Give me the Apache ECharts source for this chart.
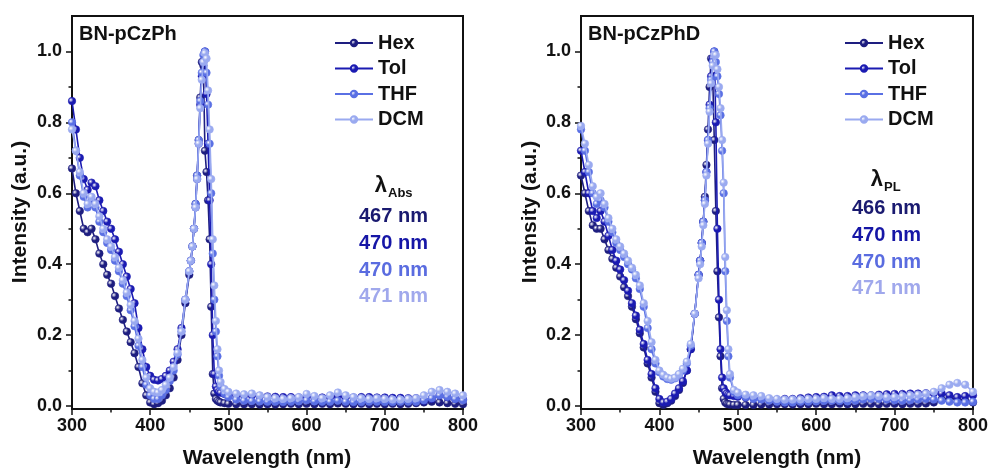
<!DOCTYPE html>
<html>
<head>
<meta charset="utf-8">
<script src="https://cdn.jsdelivr.net/npm/echarts@6/dist/echarts.min.js"></script>
<style>
html,body{margin:0;padding:0;background:#fff;}
#chart{width:991px;height:473px;}
</style>
</head>
<body>
<div id="chart"></div>
<script>
// ---------- data ----------
const seriesNames = ['Hex', 'Tol', 'THF', 'DCM'];
const panelTitles = ['BN-pCzPh', 'BN-pCzPhD'];
const lambdaSubs = ['Abs', 'PL'];
const peaksA = ['467 nm', '470 nm', '470 nm', '471 nm'];
const peaksB = ['466 nm', '470 nm', '470 nm', '471 nm'];
const xTicks = [300, 400, 500, 600, 700, 800];
const yTicks = [0, 0.2, 0.4, 0.6, 0.8, 1.0];
const yMinorTicks = [0.1, 0.3, 0.5, 0.7, 0.9];

const wl = [
  300,305,310,315,320,325,330,335,340,345,350,355,360,365,370,375,380,385,390,395,400,405,410,415,420,425,430,435,440,445,
  450,452,454,456,458,460,462,464,466,468,470,472,474,476,478,480,482,484,486,488,490,
  495,500,510,520,
  530,540,550,560,570,580,590,600,610,620,630,640,650,660,670,680,690,700,710,720,730,740,750,760,770,780,790,800
];

// BN-pCzPh
const a_hex = [
  0.67,0.60,0.55,0.50,0.49,0.50,0.47,0.43,0.40,0.37,0.345,0.31,0.275,0.243,0.21,0.18,0.149,0.11,0.064,0.03,0.01,0.005,0.008,0.015,0.03,0.05,0.08,0.13,0.2,0.29,
  0.37,0.41,0.45,0.5,0.57,0.65,0.75,0.87,0.97,0.96,0.72,0.66,0.58,0.47,0.28,0.09,0.035,0.02,0.015,0.012,0.01,
  0.008,0.006,0.005,0.005,
  0.005,0.004,0.005,0.004,0.005,0.006,0.005,0.006,0.005,0.006,0.005,0.007,0.006,0.005,0.006,0.005,0.006,0.005,0.006,0.005,0.006,0.008,0.01,0.012,0.01,0.008,0.006,0.005
];
const a_tol = [
  0.86,0.78,0.70,0.64,0.61,0.63,0.62,0.58,0.55,0.52,0.50,0.47,0.435,0.40,0.365,0.33,0.29,0.22,0.16,0.11,0.085,0.074,0.072,0.076,0.085,0.1,0.125,0.16,0.22,0.3,
  0.38,0.41,0.45,0.5,0.56,0.64,0.74,0.85,0.93,0.97,1.0,0.88,0.74,0.58,0.4,0.2,0.09,0.055,0.045,0.04,0.037,
  0.034,0.032,0.03,0.03,
  0.03,0.028,0.027,0.026,0.025,0.025,0.024,0.026,0.025,0.024,0.025,0.027,0.025,0.024,0.025,0.025,0.024,0.024,0.023,0.023,0.022,0.022,0.015,0.02,0.03,0.025,0.02,0.018
];
const a_thf = [
  0.80,0.72,0.65,0.59,0.56,0.58,0.56,0.52,0.49,0.46,0.44,0.41,0.38,0.345,0.31,0.27,0.225,0.17,0.11,0.06,0.03,0.02,0.02,0.03,0.045,0.07,0.1,0.145,0.21,0.3,
  0.38,0.41,0.45,0.5,0.57,0.65,0.75,0.86,0.94,0.99,1.0,0.94,0.85,0.74,0.6,0.43,0.3,0.21,0.14,0.085,0.055,
  0.035,0.025,0.018,0.015,
  0.014,0.013,0.012,0.012,0.011,0.012,0.013,0.016,0.013,0.012,0.012,0.015,0.012,0.011,0.011,0.012,0.012,0.011,0.011,0.012,0.012,0.012,0.016,0.022,0.03,0.026,0.02,0.016
];
const a_dcm = [
  0.78,0.72,0.66,0.60,0.57,0.59,0.57,0.535,0.50,0.47,0.45,0.42,0.39,0.355,0.32,0.285,0.24,0.19,0.13,0.08,0.05,0.04,0.038,0.045,0.06,0.08,0.11,0.15,0.21,0.3,
  0.38,0.41,0.45,0.5,0.56,0.64,0.74,0.84,0.92,0.97,0.995,0.98,0.89,0.78,0.64,0.47,0.34,0.24,0.16,0.1,0.068,
  0.048,0.04,0.035,0.033,
  0.035,0.03,0.025,0.022,0.02,0.022,0.025,0.034,0.028,0.022,0.03,0.038,0.03,0.025,0.022,0.02,0.022,0.02,0.018,0.018,0.02,0.022,0.03,0.04,0.045,0.04,0.035,0.03
];

// BN-pCzPhD
const b_hex = [
  0.65,0.60,0.55,0.51,0.50,0.50,0.47,0.44,0.415,0.39,0.365,0.335,0.31,0.28,0.245,0.205,0.165,0.12,0.08,0.04,0.008,0.003,0.008,0.015,0.028,0.045,0.065,0.1,0.16,0.26,
  0.37,0.41,0.46,0.52,0.59,0.68,0.78,0.9,0.98,0.93,0.75,0.55,0.38,0.25,0.14,0.05,0.02,0.01,0.006,0.005,0.004,
  0.003,0.003,0.003,0.003,
  0.004,0.004,0.005,0.005,0.004,0.005,0.005,0.006,0.005,0.005,0.006,0.005,0.005,0.006,0.006,0.005,0.006,0.006,0.005,0.006,0.006,0.007,0.01,0.018,0.022,0.02,0.015,0.01
];
const b_tol = [
  0.72,0.66,0.6,0.55,0.53,0.55,0.52,0.48,0.44,0.41,0.385,0.355,0.325,0.29,0.255,0.215,0.175,0.13,0.09,0.05,0.02,0.01,0.012,0.02,0.035,0.05,0.07,0.1,0.16,0.26,
  0.37,0.41,0.46,0.52,0.58,0.66,0.75,0.85,0.93,0.98,1.0,0.8,0.5,0.3,0.16,0.08,0.05,0.04,0.035,0.032,0.03,
  0.028,0.026,0.024,0.022,
  0.02,0.018,0.018,0.02,0.02,0.022,0.024,0.025,0.026,0.03,0.028,0.028,0.03,0.03,0.03,0.032,0.033,0.034,0.034,0.035,0.035,0.036,0.036,0.035,0.03,0.025,0.028,0.03
];
const b_thf = [
  0.78,0.72,0.66,0.6,0.57,0.58,0.56,0.52,0.49,0.46,0.44,0.42,0.4,0.385,0.36,0.33,0.28,0.22,0.16,0.12,0.095,0.083,0.076,0.074,0.078,0.088,0.1,0.12,0.17,0.26,
  0.37,0.41,0.46,0.52,0.58,0.66,0.75,0.84,0.92,0.97,1.0,0.97,0.93,0.88,0.82,0.72,0.6,0.38,0.24,0.14,0.08,
  0.04,0.03,0.025,0.02,
  0.018,0.015,0.012,0.01,0.01,0.012,0.012,0.013,0.014,0.015,0.014,0.013,0.015,0.018,0.02,0.02,0.018,0.016,0.015,0.016,0.018,0.02,0.018,0.015,0.012,0.01,0.01,0.012
];
const b_dcm = [
  0.79,0.74,0.68,0.62,0.59,0.6,0.57,0.53,0.5,0.47,0.45,0.43,0.41,0.39,0.37,0.34,0.29,0.24,0.18,0.13,0.1,0.088,0.08,0.077,0.08,0.09,0.105,0.125,0.175,0.26,
  0.36,0.4,0.45,0.51,0.57,0.65,0.74,0.83,0.91,0.96,0.99,0.99,0.95,0.9,0.84,0.75,0.63,0.42,0.27,0.16,0.09,
  0.045,0.038,0.032,0.03,
  0.028,0.022,0.02,0.018,0.018,0.018,0.02,0.02,0.022,0.02,0.02,0.022,0.025,0.028,0.03,0.028,0.025,0.025,0.028,0.03,0.032,0.035,0.04,0.05,0.06,0.065,0.06,0.04
];

const panelData = [[a_hex, a_tol, a_thf, a_dcm], [b_hex, b_tol, b_thf, b_dcm]];

// ---------- style ----------
const FONT = '"Liberation Sans", Arial, sans-serif';
const lineColors = ['#1e1e80', '#1b1bb2', '#5a70e4', '#9aaaf0'];
const textColors = ['#1a1a70', '#1616a6', '#5a6ce0', '#a0a8ec'];
const AX = '#111';

const grids = [
  {left: 72, top: 16, width: 391, height: 393},
  {left: 581, top: 16, width: 392, height: 393}
];

function sphere(c) {
  return {type: 'radial', x: 0.35, y: 0.35, r: 0.7,
    colorStops: [{offset: 0, color: '#ffffff'}, {offset: 0.45, color: c}, {offset: 1, color: c}]};
}

const option = {
  animation: false,
  backgroundColor: '#fff',
  grid: grids.map(g => Object.assign({show: true, borderColor: AX, borderWidth: 2, backgroundColor: 'transparent'}, g)),
  xAxis: [0, 1].map(i => ({
    type: 'value', gridIndex: i, min: 300, max: 800, interval: 100,
    axisLine: {show: true, onZero: false, lineStyle: {color: AX, width: 2}},
    axisTick: {show: true, inside: false, length: 6, lineStyle: {color: AX, width: 1.5}},
    minorTick: {show: true, splitNumber: 2, length: 3.5, lineStyle: {color: AX, width: 1.5}},
    splitLine: {show: false}, minorSplitLine: {show: false},
    axisLabel: {fontSize: 18, fontWeight: 'bold', color: AX, fontFamily: FONT, margin: 8,
      customValues: xTicks}
  })),
  yAxis: [].concat(...[0, 1].map(i => [{
    type: 'value', gridIndex: i, min: -0.0085, max: 1.1, position: 'left',
    axisLine: {show: true, onZero: false, lineStyle: {color: AX, width: 2}},
    axisTick: {show: true, inside: false, length: 6, lineStyle: {color: AX, width: 1.5}, customValues: yTicks},
    splitLine: {show: false},
    axisLabel: {fontSize: 18, fontWeight: 'bold', color: AX, fontFamily: FONT, margin: 10,
      customValues: yTicks, formatter: v => v.toFixed(1)}
  }, {
    type: 'value', gridIndex: i, min: -0.0085, max: 1.1, position: 'left', offset: 0,
    axisLine: {show: false, onZero: false},
    axisTick: {show: true, inside: false, length: 3.5, lineStyle: {color: AX, width: 1.5}, customValues: yMinorTicks},
    splitLine: {show: false},
    axisLabel: {show: false, customValues: yMinorTicks}
  }])),
  legend: [0, 1].map(i => ({
    data: seriesNames, orient: 'vertical',
    left: i === 0 ? 329 : 839, top: 28,
    itemWidth: 38, itemHeight: 8, itemGap: 5.5,
    textStyle: {fontSize: 20, fontWeight: 'bold', color: AX, fontFamily: FONT, lineHeight: 20},
    selectedMode: false
  })),
  series: [],
  graphic: []
};

[0, 1].forEach(p => {
  seriesNames.forEach((name, k) => {
    option.series.push({
      name: name, type: 'line', xAxisIndex: p, yAxisIndex: p * 2,
      data: wl.map((x, j) => [x, panelData[p][k][j]]),
      symbol: 'circle', symbolSize: 7.5, showSymbol: true, showAllSymbol: true,
      lineStyle: {color: lineColors[k], width: 1.6},
      itemStyle: {color: sphere(lineColors[k]), borderColor: lineColors[k], borderWidth: 0.6},
      z: 2 + k
    });
  });
});

const G = option.graphic;
function txt(x, y, s, size, color, align, extra) {
  G.push(Object.assign({type: 'text', x: x, y: y, silent: true,
    style: {text: s, fontSize: size, fontWeight: 'bold', fill: color, fontFamily: FONT,
      textAlign: align || 'left', textVerticalAlign: 'middle'}}, extra || {}));
}
// panel titles
txt(79, 34, panelTitles[0], 20, AX);
txt(588, 34, panelTitles[1], 20, AX);
// axis titles
txt(267, 458, 'Wavelength (nm)', 21, AX, 'center');
txt(777, 458, 'Wavelength (nm)', 21, AX, 'center');
txt(20, 212, 'Intensity (a.u.)', 21, AX, 'center', {rotation: Math.PI / 2});
txt(530, 212, 'Intensity (a.u.)', 21, AX, 'center', {rotation: Math.PI / 2});
// lambda labels
txt(387, 186, 'λ', 22, AX, 'right');
txt(388, 193, lambdaSubs[0], 13, AX, 'left');
txt(883, 180, 'λ', 22, AX, 'right');
txt(884, 187, lambdaSubs[1], 13, AX, 'left');
const ysA = [216, 243, 270, 296];
const ysB = [208, 235, 262, 288];
peaksA.forEach((s, k) => txt(359, ysA[k], s, 20, textColors[k], 'left'));
peaksB.forEach((s, k) => txt(852, ysB[k], s, 20, textColors[k], 'left'));

const chart = echarts.init(document.getElementById('chart'), null, {renderer: 'canvas'});
chart.setOption(option);
</script>
</body>
</html>
